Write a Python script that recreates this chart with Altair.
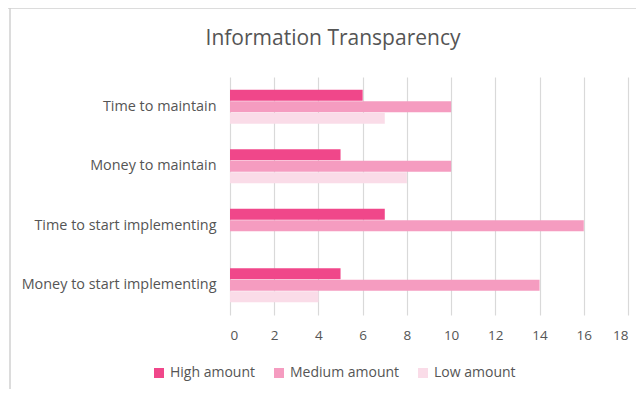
import altair as alt
import pandas as pd

categories = ["Time to maintain", "Money to maintain", "Time to start implementing", "Money to start implementing"]
series = ["High amount", "Medium amount", "Low amount"]
high = [6, 5, 7, 5]
medium = [10, 10, 16, 14]
low = [7, 8, 0, 4]
colors = ["#F0478A", "#F59CC0", "#FADCE8"]

rows = []
for i, c in enumerate(categories):
    for s, vals in zip(series, [high, medium, low]):
        rows.append({"category": c, "series": s, "value": vals[i]})
df = pd.DataFrame(rows)

FONT = "Open Sans"
TXT = "#555555"

bars = alt.Chart(df).mark_bar(size=11).encode(
    y=alt.Y("category:N", sort=categories, title=None,
            scale=alt.Scale(paddingInner=0.42, paddingOuter=0.21),
            axis=alt.Axis(labelFontSize=14.4, labelColor=TXT, labelFont=FONT,
                          ticks=False, domain=False, labelPadding=14, labelLimit=300)),
    yOffset=alt.YOffset("series:N", sort=series),
    x=alt.X("value:Q", title=None,
            scale=alt.Scale(domain=[0, 18], nice=False),
            axis=alt.Axis(values=list(range(0, 20, 2)), labelFontSize=13.5, labelColor=TXT,
                          labelFont=FONT, ticks=False, domain=False, labelPadding=13,
                          grid=True, gridColor="#D9D9D9", gridWidth=1.2)),
    color=alt.Color("series:N", sort=series,
                    scale=alt.Scale(domain=series, range=colors),
                    legend=alt.Legend(orient="none", direction="horizontal", title=None,
                                      legendX=-78, legendY=289, symbolType="square",
                                      symbolSize=100, symbolStrokeWidth=0,
                                      labelFontSize=14, labelColor=TXT, labelFont=FONT,
                                      columnPadding=16, labelOffset=4)),
)

border = alt.Chart(pd.DataFrame({"k": [0]})).mark_rule(color="#D0D0D0", strokeWidth=1.5, clip=False).encode(
    x=alt.value(-220), x2=alt.value(-220), y=alt.value(-69), y2=alt.value(312)
)
border_top = alt.Chart(pd.DataFrame({"k": [0]})).mark_rule(color="#D0D0D0", strokeWidth=1.5, clip=False).encode(
    x=alt.value(-230), x2=alt.value(420), y=alt.value(-69), y2=alt.value(-69)
)

chart = alt.layer(border, border_top, bars).properties(
    width=398, height=238,
    autosize=alt.AutoSizeParams(type="none"),
    padding={"left": 222, "top": 69, "right": 8, "bottom": 74},
    title=alt.TitleParams("Information Transparency", fontSize=21, font=FONT, fontWeight="normal",
                          color=TXT, anchor="middle", frame="group", dx=-96, offset=-42),
).configure_view(stroke=None)

chart.save("out.html", embed_options={"renderer": "svg", "actions": False})
